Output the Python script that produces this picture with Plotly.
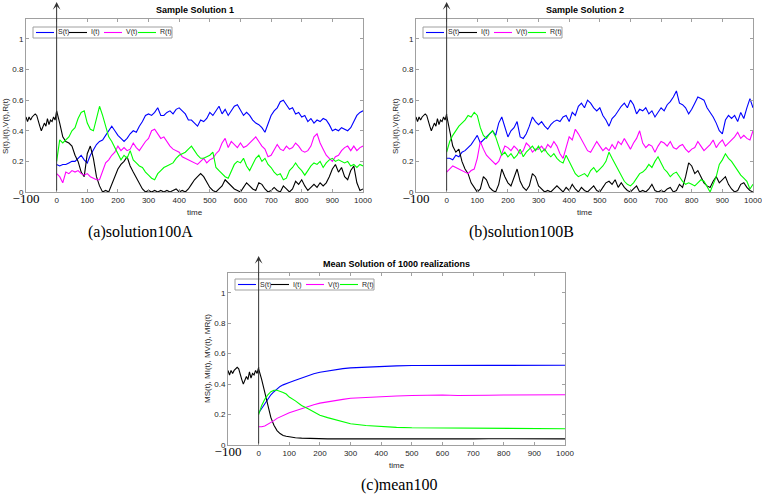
import plotly.graph_objects as go

W, H = 762, 494

# ---------------- data ----------------
t_hist = [-100, -95, -90, -85, -80, -75, -70, -65, -60, -55, -50,
          -45, -40, -35, -30, -25, -20, -15, -10, -5, 0]
I_hist = [0.49, 0.46, 0.49, 0.47, 0.49, 0.50, 0.51, 0.50, 0.46, 0.43, 0.40,
          0.42, 0.45, 0.43, 0.48, 0.44, 0.47, 0.46, 0.49, 0.47, 0.51]

t = list(range(0, 1001, 10))

S_A = [0.18, 0.17, 0.18, 0.18, 0.19, 0.20, 0.20, 0.22, 0.24, 0.21,
       0.19, 0.24, 0.28, 0.31, 0.33, 0.34, 0.37, 0.40, 0.43, 0.40,
       0.37, 0.35, 0.33, 0.35, 0.38, 0.40, 0.39, 0.43, 0.46, 0.50,
       0.51, 0.50, 0.52, 0.55, 0.50, 0.50, 0.52, 0.53, 0.51, 0.54,
       0.55, 0.53, 0.51, 0.47, 0.47, 0.45, 0.43, 0.47, 0.46, 0.48,
       0.52, 0.50, 0.53, 0.56, 0.51, 0.54, 0.50, 0.53, 0.56, 0.57,
       0.53, 0.50, 0.52, 0.50, 0.47, 0.45, 0.44, 0.42, 0.39, 0.45,
       0.50, 0.53, 0.55, 0.59, 0.60, 0.57, 0.54, 0.55, 0.51, 0.52,
       0.49, 0.50, 0.46, 0.48, 0.45, 0.47, 0.46, 0.48, 0.47, 0.44,
       0.40, 0.41, 0.40, 0.42, 0.41, 0.40, 0.42, 0.46, 0.50, 0.52,
       0.53]
I_A = [0.53, 0.45, 0.36, 0.33, 0.32, 0.30, 0.24, 0.20, 0.13, 0.10,
       0.25, 0.30, 0.22, 0.10, 0.04, 0.00, 0.01, 0.00, 0.05, 0.10,
       0.15, 0.18, 0.20, 0.23, 0.17, 0.13, 0.09, 0.06, 0.02, 0.00,
       0.01, 0.00, 0.01, 0.00, 0.01, 0.00, 0.01, 0.00, 0.01, 0.02,
       0.00, 0.01, 0.00, 0.02, 0.05, 0.08, 0.10, 0.12, 0.10, 0.06,
       0.03, 0.01, 0.00, 0.02, 0.04, 0.08, 0.06, 0.04, 0.02, 0.01,
       0.00, 0.03, 0.06, 0.04, 0.02, 0.01, 0.06, 0.05, 0.02, 0.00,
       0.01, 0.03, 0.01, 0.00, 0.04, 0.02, 0.00, 0.02, 0.07, 0.05,
       0.08, 0.04, 0.01, 0.03, 0.05, 0.03, 0.06, 0.04, 0.06, 0.10,
       0.15, 0.18, 0.13, 0.16, 0.10, 0.08, 0.14, 0.17, 0.06, 0.01,
       0.02]
V_A = [0.12, 0.10, 0.06, 0.13, 0.12, 0.14, 0.13, 0.14, 0.12, 0.11,
       0.12, 0.10, 0.09, 0.08, 0.08, 0.14, 0.19, 0.21, 0.24, 0.26,
       0.30, 0.27, 0.29, 0.27, 0.28, 0.32, 0.29, 0.27, 0.30, 0.33,
       0.35, 0.40, 0.41, 0.38, 0.35, 0.36, 0.33, 0.30, 0.28, 0.27,
       0.26, 0.23, 0.22, 0.21, 0.20, 0.19, 0.18, 0.20, 0.22, 0.19,
       0.21, 0.22, 0.25, 0.27, 0.32, 0.35, 0.29, 0.33, 0.31, 0.29,
       0.32, 0.29, 0.30, 0.32, 0.34, 0.36, 0.33, 0.30, 0.28, 0.23,
       0.24, 0.28, 0.31, 0.28, 0.27, 0.30, 0.28, 0.29, 0.32, 0.30,
       0.27, 0.26, 0.27, 0.30, 0.36, 0.38, 0.32, 0.28, 0.24, 0.22,
       0.20, 0.23, 0.24, 0.27, 0.29, 0.30, 0.27, 0.30, 0.27, 0.29,
       0.30]
R_A = [0.20, 0.34, 0.32, 0.34, 0.36, 0.40, 0.42, 0.48, 0.52, 0.53,
       0.45, 0.41, 0.40, 0.48, 0.56, 0.50, 0.43, 0.36, 0.33, 0.29,
       0.24, 0.21, 0.24, 0.22, 0.27, 0.21, 0.19, 0.17, 0.16, 0.13,
       0.11, 0.09, 0.08, 0.12, 0.14, 0.16, 0.17, 0.18, 0.19, 0.22,
       0.24, 0.25, 0.26, 0.28, 0.30, 0.27, 0.24, 0.22, 0.22, 0.23,
       0.24, 0.26, 0.16, 0.14, 0.12, 0.10, 0.09, 0.13, 0.18, 0.20,
       0.19, 0.22, 0.17, 0.14, 0.18, 0.22, 0.24, 0.20, 0.22, 0.18,
       0.16, 0.13, 0.11, 0.12, 0.08, 0.09, 0.14, 0.16, 0.19, 0.16,
       0.14, 0.11, 0.14, 0.17, 0.19, 0.18, 0.20, 0.16, 0.19, 0.21,
       0.22, 0.20, 0.21, 0.20, 0.19, 0.20, 0.17, 0.18, 0.16, 0.18,
       0.17]

S_B = [0.22, 0.22, 0.21, 0.24, 0.23, 0.26, 0.27, 0.29, 0.31, 0.34,
       0.37, 0.32, 0.34, 0.36, 0.38, 0.40, 0.37, 0.45, 0.49, 0.43,
       0.36, 0.40, 0.42, 0.46, 0.36, 0.35, 0.38, 0.43, 0.49, 0.46,
       0.44, 0.46, 0.43, 0.41, 0.44, 0.46, 0.47, 0.46, 0.49, 0.50,
       0.46, 0.52, 0.50, 0.56, 0.58, 0.55, 0.60, 0.58, 0.55, 0.53,
       0.55, 0.50, 0.47, 0.43, 0.48, 0.50, 0.53, 0.56, 0.58, 0.55,
       0.60, 0.57, 0.51, 0.54, 0.53, 0.55, 0.51, 0.53, 0.49, 0.52,
       0.55, 0.53, 0.57, 0.59, 0.62, 0.66, 0.58, 0.57, 0.55, 0.51,
       0.54, 0.58, 0.62, 0.61, 0.60, 0.55, 0.52, 0.49, 0.45, 0.40,
       0.38, 0.47, 0.50, 0.48, 0.50, 0.46, 0.52, 0.48, 0.55, 0.61,
       0.55]
I_B = [0.50, 0.40, 0.30, 0.26, 0.28, 0.20, 0.15, 0.12, 0.06, 0.03,
       0.00, 0.02, 0.10, 0.08, 0.03, 0.01, 0.00, 0.05, 0.15, 0.10,
       0.06, 0.04, 0.10, 0.15, 0.07, 0.03, 0.01, 0.04, 0.12, 0.10,
       0.04, 0.02, 0.00, 0.01, 0.00, 0.02, 0.04, 0.02, 0.00, 0.03,
       0.01, 0.05, 0.02, 0.00, 0.03, 0.01, 0.00, 0.02, 0.04, 0.01,
       0.00, 0.03, 0.06, 0.07, 0.05, 0.08, 0.03, 0.06, 0.03, 0.01,
       0.00, 0.02, 0.04, 0.00, 0.01, 0.00, 0.02, 0.05, 0.01, 0.00,
       0.01, 0.00, 0.02, 0.03, 0.00, 0.01, 0.05, 0.03, 0.10, 0.19,
       0.17, 0.12, 0.14, 0.10, 0.06, 0.04, 0.03, 0.07, 0.10, 0.06,
       0.08, 0.10, 0.05, 0.02, 0.00, 0.01, 0.05, 0.06, 0.03, 0.01,
       0.00]
V_B = [0.13, 0.15, 0.17, 0.16, 0.15, 0.14, 0.13, 0.12, 0.14, 0.15,
       0.22, 0.33, 0.28, 0.24, 0.22, 0.20, 0.18, 0.20, 0.25, 0.30,
       0.29, 0.27, 0.30, 0.28, 0.25, 0.27, 0.32, 0.30, 0.26, 0.28,
       0.28, 0.30, 0.27, 0.31, 0.29, 0.33, 0.30, 0.25, 0.22, 0.29,
       0.36, 0.34, 0.41, 0.38, 0.34, 0.30, 0.27, 0.26, 0.30, 0.33,
       0.30, 0.27, 0.29, 0.27, 0.31, 0.28, 0.33, 0.31, 0.35, 0.31,
       0.28, 0.32, 0.35, 0.40, 0.32, 0.29, 0.31, 0.30, 0.26, 0.30,
       0.33, 0.32, 0.30, 0.33, 0.29, 0.28, 0.30, 0.31, 0.28, 0.26,
       0.28, 0.29, 0.33, 0.30, 0.27, 0.29, 0.31, 0.34, 0.29, 0.32,
       0.34, 0.30, 0.32, 0.34, 0.36, 0.39, 0.35, 0.37, 0.35, 0.34,
       0.40]
R_B = [0.26, 0.33, 0.37, 0.40, 0.43, 0.45, 0.47, 0.50, 0.49, 0.52,
       0.50, 0.42, 0.37, 0.35, 0.38, 0.40, 0.36, 0.30, 0.24, 0.26,
       0.23, 0.25, 0.22, 0.24, 0.28, 0.23, 0.26, 0.28, 0.30, 0.27,
       0.30, 0.26, 0.28, 0.25, 0.23, 0.25, 0.22, 0.20, 0.19, 0.24,
       0.20, 0.17, 0.12, 0.10, 0.11, 0.12, 0.10, 0.14, 0.16, 0.13,
       0.15, 0.17, 0.20, 0.26, 0.22, 0.18, 0.14, 0.10, 0.07, 0.05,
       0.04, 0.06, 0.09, 0.12, 0.13, 0.15, 0.18, 0.16, 0.20, 0.23,
       0.19, 0.15, 0.13, 0.10, 0.12, 0.13, 0.10, 0.07, 0.05, 0.06,
       0.05, 0.04, 0.06, 0.08, 0.07, 0.03, 0.00, 0.05, 0.10, 0.18,
       0.21, 0.25, 0.22, 0.20, 0.17, 0.14, 0.11, 0.09, 0.07, 0.02,
       0.05]

t_mean = [0, 10, 20, 30, 40, 50, 60, 70, 80, 90, 100, 120, 140, 160, 180,
          200, 225, 250, 275, 300, 350, 400, 450, 500, 550, 600, 650, 700,
          750, 800, 850, 900, 950, 1000]
MS = [0.21, 0.24, 0.27, 0.30, 0.33, 0.35, 0.37, 0.385, 0.395, 0.405, 0.41,
      0.425, 0.44, 0.455, 0.468, 0.478, 0.487, 0.495, 0.502, 0.507, 0.513,
      0.517, 0.520, 0.522, 0.523, 0.524, 0.523, 0.524, 0.523, 0.523, 0.524,
      0.523, 0.522, 0.524]
MI = [0.50, 0.43, 0.34, 0.25, 0.18, 0.13, 0.095, 0.075, 0.063, 0.057, 0.053,
      0.048, 0.045, 0.043, 0.042, 0.041, 0.040, 0.041, 0.040, 0.042, 0.039,
      0.040, 0.040, 0.039, 0.040, 0.040, 0.041, 0.040, 0.041, 0.040, 0.040,
      0.041, 0.042, 0.040]
MV = [0.12, 0.12, 0.125, 0.135, 0.15, 0.16, 0.175, 0.185, 0.195, 0.205, 0.212,
      0.225, 0.24, 0.252, 0.265, 0.275, 0.285, 0.292, 0.30, 0.307, 0.313,
      0.318, 0.322, 0.325, 0.327, 0.328, 0.325, 0.328, 0.327, 0.328, 0.329,
      0.327, 0.328, 0.33]
MR = [0.20, 0.26, 0.30, 0.33, 0.35, 0.36, 0.36, 0.355, 0.345, 0.335, 0.315,
      0.29, 0.26, 0.24, 0.215, 0.195, 0.18, 0.165, 0.15, 0.14, 0.128,
      0.12, 0.116, 0.113, 0.112, 0.112, 0.111, 0.111, 0.110, 0.110, 0.110,
      0.109, 0.109, 0.107]

legend_labels = ["S(t)", "I(t)", "V(t)", "R(t)"]
colors = ["#0000ff", "#000000", "#ff00ff", "#00ff00"]
x_tickvals = [-100, 0, 100, 200, 300, 400, 500, 600, 700, 800, 900, 1000]
y_tickvals = [0, 0.2, 0.4, 0.6, 0.8, 1]
y_ticktext = ["0", "0.2", "0.4", "0.6", "0.8", "1"]

titles = ["Sample Solution 1", "Sample Solution 2", "Mean Solution of 1000 realizations"]
ylabels = ["S(t),I(t),V(t),R(t)", "S(t),I(t),V(t),R(t)", "MS(t), MI(t), MV(t), MR(t)"]
captions = ["(a)solution100A", "(b)solution100B", "(c)mean100"]

# ---------------- layout geometry (pixels) ----------------
boxes = [(26, 363, 19, 192), (416, 753, 19, 192), (228, 565, 273, 445)]


def px(x):
    return x / W


def py(y):
    return 1 - y / H


fig = go.Figure()

panels = [
    (t, [S_A, I_A, V_A, R_A]),
    (t, [S_B, I_B, V_B, R_B]),
    (t_mean, [MS, MI, MV, MR]),
]

for k, (tx, series) in enumerate(panels):
    xa = "x" if k == 0 else f"x{k+1}"
    ya = "y" if k == 0 else f"y{k+1}"
    for j, (name, col, ys) in enumerate(zip(legend_labels, colors, series)):
        xs = list(tx)
        yv = list(ys)
        if j == 1:
            xs = t_hist + xs
            yv = I_hist + yv
        fig.add_trace(go.Scatter(x=xs, y=yv, mode="lines", name=name,
                                 line=dict(color=col, width=1.1),
                                 xaxis=xa, yaxis=ya, showlegend=False,
                                 hoverinfo="skip"))

xticktext = ['<span style="font-family:\'Liberation Serif\';font-size:13px;color:#000">\u2212100</span>'] + \
    [str(v) for v in x_tickvals[1:]]

axis_common = dict(showline=True, mirror="ticks", linecolor="#a0a0a0", linewidth=1,
                   ticks="inside", ticklen=3, tickcolor="#a0a0a0", showgrid=False,
                   zeroline=False, ticklabeloverflow="allow", automargin=False,
                   tickfont=dict(family="Liberation Sans", size=8, color="#262626"))

layout = dict(width=W, height=H, margin=dict(l=0, r=0, t=0, b=0, autoexpand=False),
              paper_bgcolor="white", plot_bgcolor="white", showlegend=False)


def note(x, y, text, size, family="Liberation Sans", color="#262626", **kw):
    d = dict(x=px(x), y=py(y), xref="paper", yref="paper", text=text, showarrow=False,
             xanchor="center", yanchor="middle",
             font=dict(family=family, size=size, color=color))
    d.update(kw)
    return d


shapes = []
annotations = []
for k, (x0, x1, y0, y1) in enumerate(boxes):
    sx = "" if k == 0 else str(k + 1)
    layout[f"xaxis{sx}"] = dict(domain=[px(x0), px(x1)], anchor=f"y{sx}", range=[-100, 1000],
                                tickvals=x_tickvals, ticktext=xticktext, **axis_common)
    layout[f"yaxis{sx}"] = dict(domain=[py(y1), py(y0)], anchor=f"x{sx}", range=[0, 1.13],
                                tickvals=y_tickvals, ticktext=y_ticktext, **axis_common)
    xc = (x0 + x1) / 2
    annotations.append(note(xc, y0 - 9, f"<b>{titles[k]}</b>", 9, color="#000"))
    annotations.append(note(xc, y1 + 20, "time", 8))
    ylc = y0 + 107 if k < 2 else (y0 + y1) / 2
    annotations.append(note(x0 - 21, ylc, ylabels[k], 8, textangle=-90))
    capx = [140, 521, 399][k]
    annotations.append(note(capx, y1 + 40, captions[k], 16, family="Liberation Serif", color="#000"))
    # vertical arrow at t = 0
    annotations.append(dict(x=0, xref=f"x{sx}", y=py(y0 - 17), yref="paper",
                            ax=0, ay=(y1 - (y0 - 17)), axref="pixel", ayref="pixel",
                            text="", showarrow=True, arrowhead=3, arrowsize=1.3,
                            arrowwidth=1, arrowcolor="#333333"))
    # legend box
    lx0 = x0 + 7
    ly0 = y0 + 8 if k < 2 else y0 + 6
    lw, lh = 139, 11
    shapes.append(dict(type="rect", xref="paper", yref="paper",
                       x0=px(lx0), x1=px(lx0 + lw), y0=py(ly0 + lh), y1=py(ly0),
                       line=dict(color="#a0a0a0", width=1), fillcolor="white"))
    starts = [0, 33, 68, 102]
    for s, name, col in zip(starts, legend_labels, colors):
        shapes.append(dict(type="line", xref="paper", yref="paper",
                           x0=px(lx0 + s + 3), x1=px(lx0 + s + 21),
                           y0=py(ly0 + lh / 2), y1=py(ly0 + lh / 2),
                           line=dict(color=col, width=1.1)))
        annotations.append(note(lx0 + s + 23, ly0 + lh / 2, name, 7, xanchor="left"))

layout["shapes"] = shapes
layout["annotations"] = annotations
fig.update_layout(**layout)

fig.write_html("out.html", config={"displayModeBar": False},
               post_script="document.body.style.margin='0px';document.body.style.padding='0px';")
